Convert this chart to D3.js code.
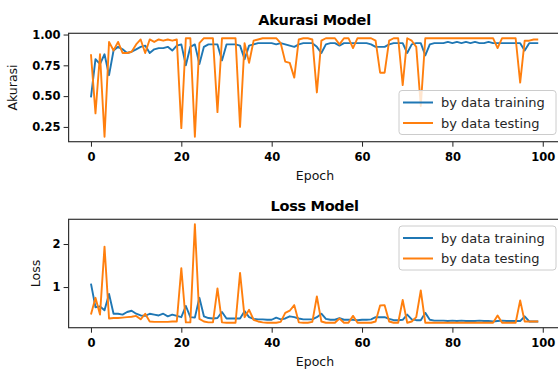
<!DOCTYPE html>
<html>
<head>
<meta charset="utf-8">
<script src="https://cdn.jsdelivr.net/npm/d3@7"></script>
<style>
  html, body { margin: 0; padding: 0; background: #fff; }
  svg { display: block; font-family: "DejaVu Sans", sans-serif; }
</style>
</head>
<body>
<div id="chart"></div>
<script>
// values (epoch 0..99)
const accTrain = [
  0.49, 0.80, 0.76, 0.84, 0.67, 0.87, 0.90, 0.88, 0.85, 0.86,
  0.88, 0.90, 0.91, 0.85, 0.88, 0.89, 0.89, 0.90, 0.87, 0.91,
  0.92, 0.75, 0.90, 0.92, 0.76, 0.90, 0.92, 0.92, 0.92, 0.79,
  0.92, 0.92, 0.92, 0.91, 0.80, 0.91, 0.92, 0.93, 0.93, 0.93,
  0.93, 0.92, 0.93, 0.92, 0.91, 0.90, 0.92, 0.93, 0.93, 0.93,
  0.90, 0.85, 0.92, 0.93, 0.93, 0.91, 0.93, 0.93, 0.93, 0.93,
  0.93, 0.93, 0.92, 0.90, 0.90, 0.90, 0.92, 0.93, 0.93, 0.93,
  0.85, 0.92, 0.93, 0.93, 0.83, 0.92, 0.93, 0.93, 0.93, 0.94,
  0.93, 0.94, 0.93, 0.94, 0.93, 0.94, 0.93, 0.93, 0.94, 0.93,
  0.93, 0.93, 0.93, 0.93, 0.93, 0.93, 0.87, 0.93, 0.93, 0.93
];
const accTest = [
  0.84, 0.36, 0.84, 0.17, 0.94, 0.87, 0.94, 0.85, 0.85, 0.86,
  0.92, 0.96, 0.85, 0.96, 0.94, 0.96, 0.95, 0.96, 0.95, 0.96,
  0.24, 0.97, 0.97, 0.17, 0.93, 0.97, 0.97, 0.97, 0.37, 0.97,
  0.97, 0.97, 0.97, 0.25, 0.93, 0.77, 0.95, 0.96, 0.97, 0.97,
  0.97, 0.97, 0.93, 0.78, 0.77, 0.65, 0.96, 0.97, 0.97, 0.96,
  0.53, 0.95, 0.97, 0.97, 0.97, 0.92, 0.97, 0.97, 0.89, 0.97,
  0.97, 0.97, 0.97, 0.95, 0.69, 0.69, 0.95, 0.97, 0.97, 0.59,
  0.97, 0.95, 0.90, 0.42, 0.97, 0.97, 0.97, 0.97, 0.97, 0.97,
  0.97, 0.97, 0.97, 0.97, 0.97, 0.97, 0.97, 0.97, 0.97, 0.97,
  0.89, 0.97, 0.97, 0.97, 0.97, 0.61, 0.95, 0.95, 0.96, 0.96
];
const lossTrain = [
  1.08, 0.53, 0.55, 0.46, 0.84, 0.38, 0.38, 0.36, 0.42, 0.45,
  0.38, 0.34, 0.33, 0.38, 0.36, 0.34, 0.38, 0.32, 0.36, 0.33,
  0.30, 0.56, 0.30, 0.29, 0.75, 0.32, 0.28, 0.27, 0.28, 0.42,
  0.27, 0.27, 0.27, 0.27, 0.44, 0.30, 0.26, 0.25, 0.25, 0.24,
  0.24, 0.29, 0.25, 0.27, 0.32, 0.30, 0.27, 0.25, 0.25, 0.25,
  0.30, 0.38, 0.26, 0.24, 0.24, 0.28, 0.24, 0.24, 0.24, 0.23,
  0.24, 0.24, 0.25, 0.30, 0.30, 0.30, 0.26, 0.23, 0.23, 0.24,
  0.36, 0.25, 0.23, 0.23, 0.40, 0.24, 0.22, 0.22, 0.22, 0.21,
  0.22, 0.21, 0.22, 0.21, 0.21, 0.21, 0.22, 0.21, 0.21, 0.20,
  0.21, 0.22, 0.21, 0.21, 0.21, 0.21, 0.32, 0.20, 0.20, 0.20
];
const lossTest = [
  0.36, 0.75, 0.36, 1.94, 0.27, 0.28, 0.28, 0.29, 0.30, 0.31,
  0.33, 0.25, 0.38, 0.20, 0.19, 0.19, 0.19, 0.19, 0.20, 0.20,
  1.44, 0.18, 0.18, 2.46, 0.26, 0.20, 0.18, 0.18, 0.97, 0.18,
  0.17, 0.17, 0.17, 1.33, 0.30, 0.47, 0.24, 0.20, 0.18, 0.17,
  0.17, 0.17, 0.19, 0.40, 0.45, 0.58, 0.18, 0.17, 0.17, 0.19,
  0.78, 0.20, 0.17, 0.17, 0.17, 0.27, 0.17, 0.17, 0.33, 0.17,
  0.17, 0.17, 0.17, 0.20, 0.57, 0.58, 0.20, 0.17, 0.17, 0.70,
  0.17, 0.20, 0.30, 0.92, 0.17, 0.17, 0.17, 0.17, 0.17, 0.17,
  0.17, 0.17, 0.17, 0.17, 0.17, 0.17, 0.17, 0.17, 0.17, 0.17,
  0.34, 0.17, 0.17, 0.17, 0.17, 0.69, 0.20, 0.20, 0.20, 0.20
];
const xTicks = [0, 20, 40, 60, 80, 100];
const accTicks = [0.25, 0.50, 0.75, 1.00];
const lossTicks = [1, 2];
const seriesNames = ["by data training", "by data testing"];
const colors = ["#1f77b4", "#ff7f0e"];

const width = 558, height = 369;
const svg = d3.select("#chart").append("svg")
  .attr("width", width).attr("height", height);

const x = d3.scaleLinear()
  .domain([-0.05 * 99, 99 + 0.05 * 99])
  .range([68.6, 560.6]);

// matplotlib-like 5% margin domain
function padded(a, b) {
  const [lo, hi] = d3.extent(a.concat(b));
  const m = (hi - lo) * 0.05;
  return [lo - m, hi + m];
}

function panel(opts) {
  const { top, bottom, train, test, yTicks, fmt, title, ylabel, ylabelX, legend } = opts;
  const y = d3.scaleLinear().domain(padded(train, test)).range([bottom, top]);
  const g = svg.append("g");

  const clipId = "clip" + Math.round(top);
  svg.append("clipPath").attr("id", clipId)
    .append("rect").attr("x", x.range()[0]).attr("y", top)
    .attr("width", x.range()[1] - x.range()[0]).attr("height", bottom - top);

  const line = d3.line().x((d, i) => x(i)).y(d => y(d));
  const lines = g.append("g").attr("clip-path", `url(#${clipId})`);
  [train, test].forEach((s, k) => {
    lines.append("path").datum(s)
      .attr("d", line)
      .attr("fill", "none")
      .attr("stroke", colors[k])
      .attr("stroke-width", 1.9)
      .attr("stroke-linejoin", "round");
  });

  // axes
  const xAxis = d3.axisBottom(x).tickValues(xTicks).tickSizeOuter(0).tickSize(5).tickPadding(6);
  g.append("g").attr("transform", `translate(0,${bottom})`).call(xAxis)
    .call(a => a.select(".domain").remove());
  const yAxis = d3.axisLeft(y).tickValues(yTicks).tickFormat(d3.format(fmt)).tickSizeOuter(0).tickSize(5).tickPadding(3);
  g.append("g").attr("transform", `translate(${x.range()[0]},0)`).call(yAxis)
    .call(a => a.select(".domain").remove());
  g.selectAll(".tick text")
    .attr("font-family", "DejaVu Sans")
    .attr("font-size", 11.5)
    .attr("font-weight", "bold")
    .attr("fill", "#000");
  g.selectAll(".tick line").attr("stroke", "#222").attr("stroke-width", 1);

  // frame
  g.append("rect")
    .attr("x", x.range()[0]).attr("y", top)
    .attr("width", x.range()[1] - x.range()[0]).attr("height", bottom - top)
    .attr("fill", "none").attr("stroke", "#333").attr("stroke-width", 1.2);

  g.append("text")
    .attr("x", (x.range()[0] + x.range()[1]) / 2).attr("y", top - 8)
    .attr("text-anchor", "middle")
    .attr("font-size", 14.5).attr("font-weight", "bold")
    .attr("letter-spacing", -0.3)
    .text(title);

  g.append("text")
    .attr("x", 315).attr("y", bottom + 38)
    .attr("text-anchor", "middle")
    .attr("font-size", 12.5).attr("fill", "#111")
    .text("Epoch");

  g.append("text")
    .attr("transform", `translate(${ylabelX},${(top + bottom) / 2}) rotate(-90)`)
    .attr("text-anchor", "middle")
    .attr("font-size", 12.5).attr("fill", "#111")
    .text(ylabel);

  // legend
  const lg = g.append("g").attr("transform", `translate(${legend.x},${legend.y})`);
  lg.append("rect")
    .attr("width", 157).attr("height", 44).attr("rx", 3)
    .attr("fill", "#fff").attr("fill-opacity", 0.8)
    .attr("stroke", "#ccc").attr("stroke-width", 1);
  seriesNames.forEach((name, k) => {
    const cy = 12 + k * 20.5;
    lg.append("line")
      .attr("x1", 4).attr("x2", 34).attr("y1", cy).attr("y2", cy)
      .attr("stroke", colors[k]).attr("stroke-width", 2);
    lg.append("text")
      .attr("x", 42).attr("y", cy + 4.5)
      .attr("font-size", 13).attr("fill", "#262626")
      .text(name);
  });
}

panel({
  top: 33.3, bottom: 141.7, train: accTrain, test: accTest,
  yTicks: accTicks, fmt: ".2f", title: "Akurasi Model", ylabel: "Akurasi",
  ylabelX: 17, legend: { x: 399, y: 90.5 }
});
panel({
  top: 219.3, bottom: 327.7, train: lossTrain, test: lossTest,
  yTicks: lossTicks, fmt: "d", title: "Loss Model", ylabel: "Loss",
  ylabelX: 40, legend: { x: 399, y: 226 }
});
</script>
</body>
</html>
